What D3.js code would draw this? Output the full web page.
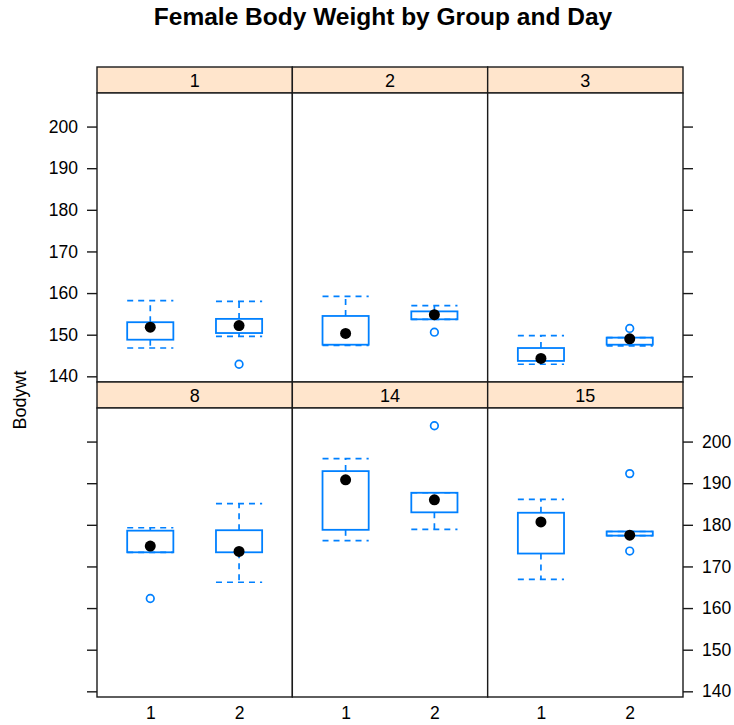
<!DOCTYPE html>
<html>
<head>
<meta charset="utf-8">
<script src="https://cdn.jsdelivr.net/npm/d3@7"></script>
<style>
  html, body { margin: 0; padding: 0; background: #fff; }
  svg { display: block; }
  text { font-family: "Liberation Sans", Arial, Helvetica, sans-serif; fill: #000; }
</style>
</head>
<body>
<svg id="chart" width="734" height="725"></svg>
<script>
// ---- data ----
const title = "Female Body Weight by Group and Day";
const yLabel = "Bodywt";
const days = ["1", "2", "3", "8", "14", "15"];
const groups = ["1", "2"];
const yTicks = [140, 150, 160, 170, 180, 190, 200];
// per day: [group1, group2]
const lowerWhisker = [[146.8, 149.6], [147.4, 153.7], [142.9, 147.3], [173.4, 166.2], [176.2, 178.9], [166.9, 177.4]];
const lowerHinge   = [[148.8, 150.4], [147.6, 153.7], [143.7, 147.6], [173.4, 173.4], [178.8, 183.0], [173.1, 177.4]];
const medians      = [[151.8, 152.2], [150.3, 154.8], [144.3, 149.0], [174.9, 173.6], [190.8, 186.0], [180.7, 177.5]];
const upperHinge   = [[153.0, 153.8], [154.5, 155.6], [146.8, 149.3], [178.6, 178.7], [192.9, 187.7], [182.9, 178.4]];
const upperWhisker = [[158.2, 158.0], [159.2, 157.0], [149.8, 149.3], [179.3, 185.1], [195.9, 187.7], [186.1, 178.4]];
const outliers     = [[[], [142.9]], [[], [150.6]], [[], [151.5]], [[162.3], []], [[], [203.8]], [[], [192.3, 173.7]]];

(function () {
// ---- layout ----
const svg = d3.select("#chart");
const L = 97, R = 683, T = 67, B = 697;
const nCol = 3, nRow = 2, stripH = 26;
const colW = (R - L) / nCol;
const rowH = (B - T) / nRow;
const blue = "#0080ff";
const lineCol = "#1a1a1a";
const tickFont = 17.5;

// y domain: data range extended by 7% (lattice default)
const allVals = [].concat(lowerWhisker.flat(), upperWhisker.flat(), outliers.flat(2));
const [ymin, ymax] = d3.extent(allVals);
const ext = (ymax - ymin) * 0.07;

const x = d3.scalePoint().domain(groups).range([0, colW]).padding(0.6);
const boxW = x.step() * 0.52;

// title
svg.append("text")
  .attr("x", 383).attr("y", 25)
  .attr("text-anchor", "middle")
  .style("font-size", "24.5px").style("font-weight", "bold")
  .text(title);

// y label
svg.append("text")
  .attr("transform", "translate(26,400) rotate(-90)")
  .attr("text-anchor", "middle")
  .style("font-size", "18px")
  .text(yLabel);

const styleAxis = a => {
  a.select(".domain").remove();
  a.selectAll("line").attr("stroke", lineCol).attr("stroke-width", 1.4);
  a.selectAll("text").style("font-size", tickFont + "px")
    .style("font-family", '"Liberation Sans", Arial, sans-serif').attr("fill", "#000");
};

days.forEach((day, i) => {
  const col = i % nCol, row = Math.floor(i / nCol);
  const px = L + col * colW;
  const stripTop = T + row * rowH;
  const pTop = stripTop + stripH;
  const pBot = stripTop + rowH;
  const y = d3.scaleLinear().domain([ymin - ext, ymax + ext]).range([pBot, pTop]);

  const g = svg.append("g").attr("transform", `translate(${px},0)`);

  // strip
  g.append("rect")
    .attr("x", 0).attr("y", stripTop).attr("width", colW).attr("height", stripH)
    .attr("fill", "#ffe5cc").attr("stroke", lineCol).attr("stroke-width", 1.4);
  g.append("text")
    .attr("x", colW / 2).attr("y", stripTop + stripH / 2 + 6.5)
    .attr("text-anchor", "middle").style("font-size", "18px")
    .text(day);

  // panel
  g.append("rect")
    .attr("x", 0).attr("y", pTop).attr("width", colW).attr("height", pBot - pTop)
    .attr("fill", "#fff").attr("stroke", lineCol).attr("stroke-width", 1.4);

  groups.forEach((grp, j) => {
    const cx = x(grp);
    const bx = g.append("g").attr("class", "box");
    const dash = "6,5";
    bx.append("line")
      .attr("x1", cx).attr("x2", cx)
      .attr("y1", y(upperHinge[i][j])).attr("y2", y(upperWhisker[i][j]))
      .attr("stroke", blue).attr("stroke-width", 1.7).attr("stroke-dasharray", dash);
    bx.append("line")
      .attr("x1", cx).attr("x2", cx)
      .attr("y1", y(lowerHinge[i][j])).attr("y2", y(lowerWhisker[i][j]))
      .attr("stroke", blue).attr("stroke-width", 1.7).attr("stroke-dasharray", dash);
    [upperWhisker[i][j], lowerWhisker[i][j]].forEach(v => {
      bx.append("line")
        .attr("x1", cx - boxW / 2).attr("x2", cx + boxW / 2)
        .attr("y1", y(v)).attr("y2", y(v))
        .attr("stroke", blue).attr("stroke-width", 1.7).attr("stroke-dasharray", dash);
    });
    bx.append("rect")
      .attr("x", cx - boxW / 2).attr("width", boxW)
      .attr("y", y(upperHinge[i][j]))
      .attr("height", y(lowerHinge[i][j]) - y(upperHinge[i][j]))
      .attr("fill", "none").attr("stroke", blue).attr("stroke-width", 1.8);
    outliers[i][j].forEach(v => {
      bx.append("circle")
        .attr("cx", cx).attr("cy", y(v)).attr("r", 3.8)
        .attr("fill", "none").attr("stroke", blue).attr("stroke-width", 1.7);
    });
    bx.append("circle")
      .attr("cx", cx).attr("cy", y(medians[i][j])).attr("r", 5.5)
      .attr("fill", "#000");
  });

  if (col === 0) {
    const ax = d3.axisLeft(y).tickValues(yTicks).tickSize(10).tickPadding(9)
      .tickFormat(row === 0 ? d3.format("d") : () => "");
    g.append("g").call(ax).call(styleAxis);
  }
  if (col === nCol - 1) {
    const ax = d3.axisRight(y).tickValues(yTicks).tickSize(10).tickPadding(9)
      .tickFormat(row === 1 ? d3.format("d") : () => "");
    g.append("g").attr("transform", `translate(${colW},0)`).call(ax).call(styleAxis);
  }
  if (row === nRow - 1) {
    const ax = d3.axisBottom(x).tickSize(0).tickPadding(10);
    g.append("g").attr("transform", `translate(0,${pBot})`).call(ax).call(styleAxis);
  }
});
})();
</script>
</body>
</html>
